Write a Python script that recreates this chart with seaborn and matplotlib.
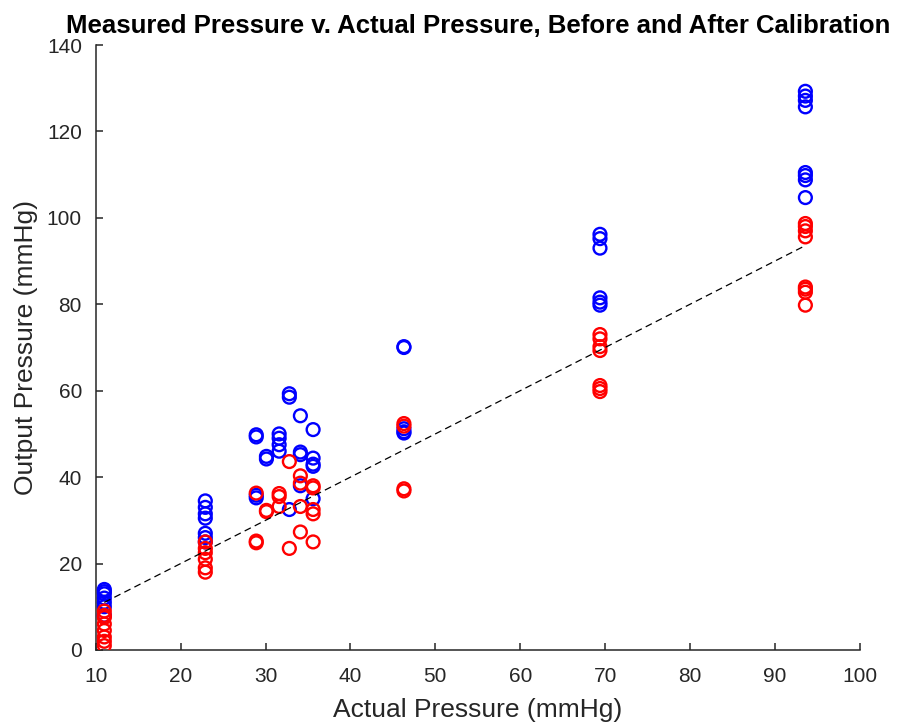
import matplotlib
matplotlib.use("Agg")
import matplotlib.pyplot as plt
import pandas as pd
import seaborn as sns

# ---------------------------------------------------------------------------
# Data
# ---------------------------------------------------------------------------

# before calibration (blue)
before_actual = (
    [11.0] * 7
    + [22.9] * 7
    + [28.9] * 4
    + [30.1] * 2
    + [31.6] * 4
    + [32.8] * 3
    + [34.1] * 4
    + [35.6] * 5
    + [46.3] * 5
    + [69.4] * 6
    + [93.6] * 8
)
before_measured = [
    14.0, 13.5, 13.0, 12.0, 11.0, 10.0, 8.0,
    34.5, 33.0, 31.5, 30.5, 27.0, 26.0, 25.0,
    49.8, 49.3, 35.8, 35.2,
    44.8, 44.2,
    50.0, 49.0, 47.5, 46.0,
    59.3, 58.5, 32.5,
    54.2, 45.8, 45.2, 38.0,
    51.0, 44.4, 43.0, 42.5, 35.0,
    70.2, 70.0, 51.2, 50.5, 50.2,
    96.2, 95.2, 93.0, 81.5, 80.5, 79.8,
    129.3, 128.2, 127.2, 125.7, 110.5, 109.8, 108.8, 104.7,
]

# after calibration (red)
after_actual = (
    [11.0] * 8
    + [22.9] * 6
    + [28.9] * 3
    + [30.1] * 2
    + [31.6] * 3
    + [32.8] * 2
    + [34.1] * 4
    + [35.6] * 5
    + [46.3] * 4
    + [69.4] * 7
    + [93.6] * 8
)
after_measured = [
    9.0, 8.0, 7.5, 6.0, 4.5, 3.0, 2.0, 1.0,
    25.0, 23.5, 22.5, 21.0, 19.0, 18.0,
    36.3, 25.2, 24.8,
    32.3, 32.0,
    36.2, 35.5, 33.2,
    43.6, 23.5,
    40.3, 38.6, 33.2, 27.3,
    38.0, 37.5, 32.5, 31.5, 25.0,
    52.4, 51.8, 37.3, 36.8,
    73.0, 72.0, 70.2, 69.3, 61.2, 60.5, 59.8,
    98.7, 98.0, 97.0, 95.6, 84.0, 83.5, 82.8, 79.8,
]

# ideal response line (output = actual)
ideal_x = [11.0, 93.6]

before = pd.DataFrame({"actual": before_actual, "measured": before_measured})
after = pd.DataFrame({"actual": after_actual, "measured": after_measured})
ideal = pd.DataFrame({"actual": ideal_x, "measured": ideal_x})

# ---------------------------------------------------------------------------
# Style
# ---------------------------------------------------------------------------

sns.set_style("ticks")
plt.rcParams["font.family"] = ["Liberation Sans", "DejaVu Sans"]
AXC = "#262626"

fig = plt.figure(figsize=(9.04, 7.27), dpi=100)
ax = fig.add_axes([0.106, 0.106, 0.845, 0.832])

sns.scatterplot(data=before, x="actual", y="measured", ax=ax, color="blue",
                facecolors="none", edgecolor="blue", linewidth=1.7, s=85,
                marker="o", zorder=3)
sns.scatterplot(data=after, x="actual", y="measured", ax=ax, color="red",
                facecolors="none", edgecolor="red", linewidth=1.7, s=85,
                marker="o", zorder=4)
sns.lineplot(data=ideal, x="actual", y="measured", ax=ax, color="black",
             linestyle="--", linewidth=0.9, zorder=5)
ax.lines[-1].set_dashes([5.5, 3.5])

ax.set_xlim(10, 100)
ax.set_ylim(0, 140)
ax.set_xticks(range(10, 101, 10))
ax.set_yticks(range(0, 141, 20))

for side in ["top", "right"]:
    ax.spines[side].set_visible(False)
for side in ["left", "bottom"]:
    ax.spines[side].set_color(AXC)
    ax.spines[side].set_linewidth(1.1)

ax.tick_params(direction="in", length=5, width=1.1, colors=AXC,
               labelsize=15, labelcolor=AXC)
ax.tick_params(axis="x", pad=12)
ax.tick_params(axis="y", pad=10)

ax.set_xlabel("Actual Pressure (mmHg)", fontsize=19, color=AXC, labelpad=9)
ax.set_ylabel("Output Pressure (mmHg)", fontsize=19, color=AXC, labelpad=6)
ax.set_title("Measured Pressure v. Actual Pressure, Before and After Calibration",
             fontsize=18.5, fontweight="bold", color="black", pad=9)

fig.savefig("out.png", dpi=100)
